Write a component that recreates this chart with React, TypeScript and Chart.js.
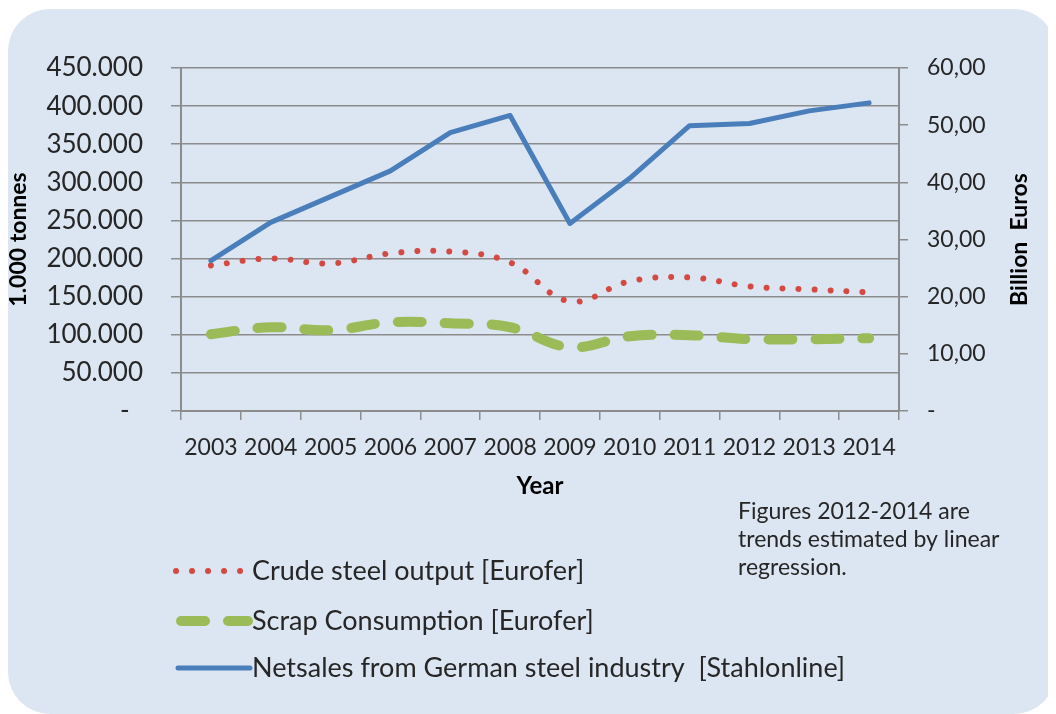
import React, { useEffect, useRef } from 'react';
import { Chart, registerables } from 'chart.js';

Chart.register(...registerables);

// ---------- data ----------
const years = ['2003', '2004', '2005', '2006', '2007', '2008', '2009', '2010', '2011', '2012', '2013', '2014'];
const crudeSteelOutput = [191000, 200000, 193600, 206700, 209300, 194900, 143900, 170100, 175300, 163500, 159600, 155700];
const scrapConsumption = [100700, 109900, 106000, 116400, 115100, 109900, 83700, 98100, 99400, 94200, 94200, 95500];
const netSales = [26.3, 33.0, 37.5, 42.0, 48.7, 51.7, 32.8, 40.7, 49.9, 50.3, 52.5, 53.9];

const seriesLabels = [
  'Crude steel output [Eurofer]',
  'Scrap Consumption [Eurofer]',
  'Netsales from German steel industry  [Stahlonline]',
];
const leftAxisTitle = '1.000 tonnes';
const rightAxisTitle = 'Billion  Euros';
const xAxisTitle = 'Year';
const noteLines = ['Figures 2012-2014 are', 'trends estimated by linear', 'regression.'];

const leftMin = 0;
const leftMax = 450000;
const leftStep = 50000;
const rightMin = 0;
const rightMax = 60;
const rightStep = 10;

// ---------- style ----------
const BG = '#dce6f2';
const GRID = '#8c8c8c';
const TEXT = '#262626';
const RED = '#d44a43';
const GREEN = '#9bbb59';
const BLUE = '#4a7ebb';
const FONT = 'Lato';

const W = 1048;
const H = 706;

const fmtLeft = (v: number) =>
  v === 0 ? '-  ' : String(Math.round(v)).replace(/\B(?=(\d{3})+(?!\d))/g, '.');
const fmtRight = (v: number) => (v === 0 ? '-' : v.toFixed(2).replace('.', ','));

const decorPlugin = {
  id: 'decor',
  beforeDraw(chart: any) {
    const ctx = chart.ctx as CanvasRenderingContext2D;
    ctx.save();
    ctx.fillStyle = BG;
    ctx.beginPath();
    (ctx as any).roundRect(0, 1, W, H - 1, 42);
    ctx.fill();
    ctx.restore();
  },
  afterDraw(chart: any) {
    const ctx = chart.ctx as CanvasRenderingContext2D;
    const area = chart.chartArea;
    ctx.save();
    // right axis title, reading bottom to top
    ctx.translate(1012, (area.top + area.bottom) / 2);
    ctx.rotate(-Math.PI / 2);
    ctx.font = `bold 23px ${FONT}`;
    ctx.fillStyle = '#000';
    ctx.textAlign = 'center';
    ctx.textBaseline = 'middle';
    ctx.fillText(rightAxisTitle, 0, 0);
    ctx.restore();

    // legend
    const rows = [563, 613, 660];
    const sample = [
      [168, 238],
      [173, 240],
      [170, 242],
    ];
    chart.data.datasets.forEach((ds: any, i: number) => {
      const y = rows[i];
      ctx.save();
      ctx.strokeStyle = ds.borderColor;
      ctx.lineWidth = ds.borderWidth;
      ctx.lineCap = ds.borderCapStyle || 'butt';
      ctx.setLineDash(ds.borderDash || []);
      ctx.beginPath();
      ctx.moveTo(sample[i][0], y);
      ctx.lineTo(sample[i][1], y);
      ctx.stroke();
      ctx.restore();
      ctx.save();
      ctx.font = `27px ${FONT}`;
      ctx.fillStyle = TEXT;
      ctx.textAlign = 'left';
      ctx.textBaseline = 'middle';
      ctx.fillText(ds.label, 244, y);
      ctx.restore();
    });

    // note
    ctx.save();
    ctx.font = `23px ${FONT}`;
    ctx.fillStyle = TEXT;
    ctx.textAlign = 'left';
    ctx.textBaseline = 'middle';
    noteLines.forEach((t, i) => ctx.fillText(t, 730, 504 + i * 28));
    ctx.restore();
  },
};

export default function App() {
  const ref = useRef<HTMLCanvasElement | null>(null);

  useEffect(() => {
    if (!ref.current) return;
    const chart = new Chart(ref.current, {
      type: 'line',
      data: {
        labels: years,
        datasets: [
          {
            label: seriesLabels[0],
            data: crudeSteelOutput,
            yAxisID: 'y',
            borderColor: RED,
            borderWidth: 6,
            borderDash: [0.01, 16],
            borderCapStyle: 'round',
            tension: 0.4,
            pointRadius: 0,
            fill: false,
            order: 3,
          },
          {
            label: seriesLabels[1],
            data: scrapConsumption,
            yAxisID: 'y',
            borderColor: GREEN,
            borderWidth: 10,
            borderDash: [24, 23],
            borderCapStyle: 'round',
            tension: 0.4,
            pointRadius: 0,
            fill: false,
            order: 2,
          },
          {
            label: seriesLabels[2],
            data: netSales,
            yAxisID: 'y1',
            borderColor: BLUE,
            borderWidth: 5,
            borderCapStyle: 'round',
            borderJoinStyle: 'round',
            tension: 0,
            pointRadius: 0,
            fill: false,
            order: 1,
          },
        ],
      },
      options: {
        responsive: false,
        animation: false,
        layout: { padding: { top: 60, left: 0, right: 0, bottom: 0 } },
        plugins: {
          legend: { display: false },
          tooltip: { enabled: false },
          title: { display: false },
        },
        scales: {
          x: {
            type: 'category',
            offset: true,
            afterFit: (s: any) => {
              s.height = 303;
            },
            grid: {
              offset: true,
              drawOnChartArea: false,
              drawTicks: true,
              tickLength: 9,
              color: GRID,
              lineWidth: 1.5,
            },
            border: { display: true, color: GRID, width: 2 },
            ticks: {
              font: { family: FONT, size: 23 },
              color: TEXT,
              padding: 14,
              maxRotation: 0,
              autoSkip: false,
            },
            title: {
              display: true,
              text: xAxisTitle,
              font: { family: FONT, size: 24, weight: 'bold' },
              color: '#000',
              padding: { top: 0, bottom: 213 },
            },
          },
          y: {
            type: 'linear',
            position: 'left',
            min: leftMin,
            max: leftMax,
            afterFit: (s: any) => {
              s.width = 173;
            },
            grid: {
              drawOnChartArea: true,
              drawTicks: true,
              tickLength: 10,
              color: GRID,
              lineWidth: 1.5,
            },
            border: { display: true, color: GRID, width: 2 },
            ticks: {
              stepSize: leftStep,
              font: { family: FONT, size: 26 },
              color: TEXT,
              padding: 28,
              callback: (v: any) => fmtLeft(Number(v)),
            },
            title: {
              display: true,
              text: leftAxisTitle,
              font: { family: FONT, size: 23, weight: 'bold', lineHeight: 1 },
              color: '#000',
              padding: { top: -1, bottom: 0 },
            },
          },
          y1: {
            type: 'linear',
            position: 'right',
            min: rightMin,
            max: rightMax,
            afterFit: (s: any) => {
              s.width = 157;
            },
            grid: {
              drawOnChartArea: false,
              drawTicks: true,
              tickLength: 9,
              color: GRID,
              lineWidth: 1.5,
            },
            border: { display: true, color: GRID, width: 2 },
            ticks: {
              stepSize: rightStep,
              font: { family: FONT, size: 23 },
              color: TEXT,
              padding: 19,
              callback: (v: any) => fmtRight(Number(v)),
            },
          },
        },
      },
      plugins: [decorPlugin],
    });
    return () => chart.destroy();
  }, []);

  return <canvas ref={ref} width={W} height={H} style={{ display: 'block' }} />;
}
